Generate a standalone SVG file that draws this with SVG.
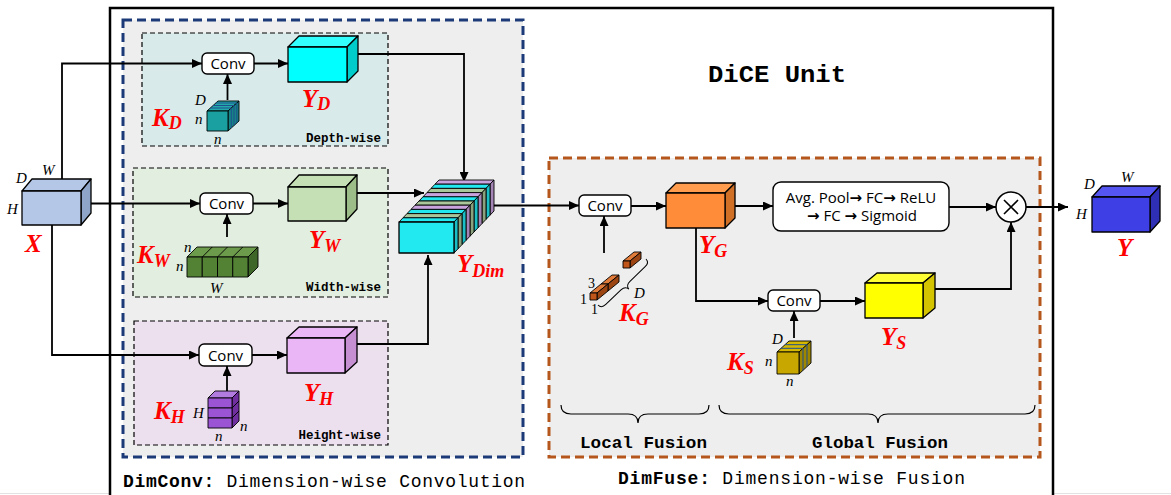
<svg xmlns="http://www.w3.org/2000/svg" width="1171" height="495" viewBox="0 0 1171 495">
<style>
  .wire{fill:none;stroke:#000;stroke-width:1.8}
  .arr{marker-end:url(#ah)}
  .conv{fill:#fff;stroke:#000;stroke-width:1.4}
  .convt{font-family:"Open Sans","Liberation Sans",sans-serif;font-size:15px;fill:#000;text-anchor:middle}
  .ar{font-family:"DejaVu Sans",sans-serif;font-weight:bold}
  .edge{stroke:#000;stroke-width:1.3;stroke-linejoin:round}
  .thin{stroke:#000;stroke-width:0.9;stroke-linejoin:round}
  .red{font-family:"Liberation Serif",serif;font-weight:bold;font-style:italic;font-size:25px;fill:#ff0000}
  .sub{font-size:18px}
  .dim{font-family:"Liberation Serif",serif;font-style:italic;font-size:15px;fill:#000}
  .num{font-family:"Liberation Serif",serif;font-size:14px;fill:#000}
  .mono{font-family:"Liberation Mono","Courier New",monospace;fill:#000}
  .tag{font-family:"Liberation Mono","Courier New",monospace;font-weight:bold;font-size:12.5px;fill:#000;text-anchor:end}
  .stripe{stroke:#1f4f8f;stroke-width:1}
  .shade{fill:#000;fill-opacity:0.18;stroke:none}
</style>
<defs>
  <marker id="ah" markerUnits="userSpaceOnUse" markerWidth="11" markerHeight="9" refX="10" refY="4.5" orient="auto">
    <path d="M0,0 L10,4.5 L0,9 Z" fill="#000"/>
  </marker>
  <!-- one slab of the stacked Y_Dim tensor: top and side strips -->
  <g id="slab">
    <polygon points="399,222 403,217.8 458,217.8 454,222"/>
    <polygon points="454,222 458,217.8 458,248.8 454,253"/>
    <polygon class="shade" points="454,222 458,217.8 458,248.8 454,253"/>
  </g>
</defs>

<rect x="0" y="0" width="1171" height="495" fill="#fff"/>
<line x1="0" y1="493.5" x2="1171" y2="493.5" stroke="#e2e2e2" stroke-width="1"/>

<!-- DiCE unit frame -->
<g id="dice-unit">
  <rect x="110" y="8" width="943" height="500" fill="#fff" stroke="#000" stroke-width="2.5"/>
  <text class="mono" x="708" y="82" font-size="24" font-weight="bold" textLength="138" lengthAdjust="spacingAndGlyphs">DiCE Unit</text>
</g>

<!-- DimConv block -->
<g id="dimconv">
  <rect x="123" y="20" width="400" height="437" fill="#eeeeee" stroke="#1c3a78" stroke-width="3" stroke-dasharray="9,5"/>
  <text class="mono" x="123" y="487" font-size="18" textLength="402" lengthAdjust="spacing"><tspan font-weight="bold">DimConv:</tspan> Dimension-wise Convolution</text>
</g>

<!-- DimFuse block -->
<g id="dimfuse">
  <rect x="549" y="158" width="491" height="299" fill="#eeeeee" stroke="#b5561c" stroke-width="3" stroke-dasharray="9,5"/>
  <text class="mono" x="618" y="484" font-size="18" textLength="347" lengthAdjust="spacing"><tspan font-weight="bold">DimFuse:</tspan> Dimension-wise Fusion</text>
</g>

<!-- branch panels -->
<g id="depth-panel">
  <rect x="142" y="33" width="246" height="113" fill="#d8eae9" stroke="#000" stroke-width="1.2" stroke-dasharray="5,3"/>
  <text class="tag" x="381" y="142">Depth-wise</text>
</g>
<g id="width-panel">
  <rect x="133" y="168" width="255" height="129" fill="#e2eedf" stroke="#000" stroke-width="1.2" stroke-dasharray="5,3"/>
  <text class="tag" x="381" y="291">Width-wise</text>
</g>
<g id="height-panel">
  <rect x="134" y="321" width="254" height="124" fill="#ecdfee" stroke="#000" stroke-width="1.2" stroke-dasharray="5,3"/>
  <text class="tag" x="381" y="439">Height-wise</text>
</g>

<!-- connectors -->
<g id="connectors">
  <polyline class="wire arr" points="62,179 62,63.5 202,63.5"/>
  <polyline class="wire arr" points="91,203.5 200,203.5"/>
  <polyline class="wire arr" points="52,225 52,355 199,355"/>
  <line class="wire arr" x1="254" y1="63.5" x2="288" y2="63.5"/>
  <line class="wire arr" x1="253" y1="203.5" x2="288" y2="203.5"/>
  <line class="wire arr" x1="252" y1="355" x2="287" y2="355"/>
  <line class="wire arr" x1="227.5" y1="100" x2="227.5" y2="74"/>
  <line class="wire arr" x1="227" y1="237" x2="227" y2="214"/>
  <line class="wire arr" x1="227" y1="391" x2="227" y2="366"/>
  <polyline class="wire arr" points="358,54 464,54 464,182"/>
  <line class="wire arr" x1="357" y1="193" x2="424" y2="193"/>
  <polyline class="wire arr" points="357,344 428,344 428,255"/>
  <line class="wire arr" x1="490" y1="205.5" x2="579" y2="205.5"/>
  <line class="wire arr" x1="604" y1="253" x2="604" y2="216"/>
  <line class="wire arr" x1="631" y1="206" x2="666" y2="206"/>
  <line class="wire arr" x1="735" y1="206" x2="773" y2="206"/>
  <line class="wire arr" x1="949" y1="207" x2="996" y2="207"/>
  <polyline class="wire arr" points="696,228 696,301 768,301"/>
  <line class="wire arr" x1="820" y1="301" x2="865" y2="301"/>
  <line class="wire arr" x1="794" y1="338" x2="794" y2="311"/>
  <polyline class="wire arr" points="935,289 1011,289 1011,222"/>
  <line class="wire arr" x1="1026" y1="207" x2="1068" y2="207"/>
</g>

<!-- input X -->
<g id="x-input">
  <polygon class="edge" fill="#b4c7e7" points="22,191 32,179 91,179 81,191"/>
  <polygon class="edge" fill="#8ea5c9" points="81,191 91,179 91,213 81,225"/>
  <rect class="edge" x="22" y="191" width="59" height="34" fill="#b4c7e7"/>
  <text class="dim" x="16" y="183">D</text>
  <text class="dim" x="42" y="175">W</text>
  <text class="dim" x="7" y="214">H</text>
  <text class="red" x="25" y="252" font-size="28">X</text>
</g>

<!-- depth-wise branch -->
<g id="conv-d">
  <rect class="conv" x="202" y="53" width="52" height="21" rx="5"/>
  <text class="convt" x="228" y="69">Conv</text>
</g>
<g id="kernel-d">
  <polygon class="thin" fill="#23a9a9" points="207,111 218,101 239,101 228,111"/>
  <polygon class="thin" fill="#168484" points="228,111 239,101 239,121 228,131"/>
  <line class="stripe" x1="210.3" y1="108" x2="231.3" y2="108"/>
  <line class="stripe" x1="213" y1="105.5" x2="234" y2="105.5"/>
  <line class="stripe" x1="215.8" y1="103" x2="236.8" y2="103"/>
  <line class="stripe" x1="231.3" y1="108" x2="231.3" y2="128"/>
  <line class="stripe" x1="234" y1="105.5" x2="234" y2="125.5"/>
  <line class="stripe" x1="236.8" y1="103" x2="236.8" y2="123"/>
  <rect class="thin" x="207" y="111" width="21" height="20" fill="#1aa0a0"/>
  <text class="dim" x="195" y="105">D</text>
  <text class="dim" x="195" y="124">n</text>
  <text class="dim" x="214" y="144">n</text>
  <text class="red" x="152" y="126">K<tspan class="sub" dy="3">D</tspan></text>
</g>
<g id="y-d">
  <polygon class="edge" fill="#33ffff" points="288,47 299,36 358,36 347,47"/>
  <polygon class="edge" fill="#00cccc" points="347,47 358,36 358,71 347,82"/>
  <rect class="edge" x="288" y="47" width="59" height="35" fill="#00ffff"/>
  <text class="red" x="302" y="107">Y<tspan class="sub" dy="3">D</tspan></text>
</g>

<!-- width-wise branch -->
<g id="conv-w">
  <rect class="conv" x="200" y="193" width="53" height="21" rx="5"/>
  <text class="convt" x="226.5" y="209">Conv</text>
</g>
<g id="kernel-w">
  <polygon class="thin" fill="#6d9b4c" points="187,257 197,247 258,247 248,257"/>
  <line class="thin" x1="202.25" y1="257" x2="212.25" y2="247"/>
  <line class="thin" x1="217.5" y1="257" x2="227.5" y2="247"/>
  <line class="thin" x1="232.75" y1="257" x2="242.75" y2="247"/>
  <polygon class="thin" fill="#3e6629" points="248,257 258,247 258,267 248,277"/>
  <rect class="thin" x="187" y="257" width="15.25" height="20" fill="#548235"/>
  <rect class="thin" x="202.25" y="257" width="15.25" height="20" fill="#548235"/>
  <rect class="thin" x="217.5" y="257" width="15.25" height="20" fill="#548235"/>
  <rect class="thin" x="232.75" y="257" width="15.25" height="20" fill="#548235"/>
  <text class="dim" x="184" y="252">n</text>
  <text class="dim" x="176" y="271">n</text>
  <text class="dim" x="210" y="293">W</text>
  <text class="red" x="137" y="263">K<tspan class="sub" dy="4">W</tspan></text>
</g>
<g id="y-w">
  <polygon class="edge" fill="#c5e0b4" points="288,187 299,175 357,175 346,187"/>
  <polygon class="edge" fill="#9dbd88" points="346,187 357,175 357,209 346,221"/>
  <rect class="edge" x="288" y="187" width="58" height="34" fill="#c5e0b4"/>
  <text class="red" x="309" y="248">Y<tspan class="sub" dy="4">W</tspan></text>
</g>

<!-- height-wise branch -->
<g id="conv-h">
  <rect class="conv" x="199" y="344" width="53" height="22" rx="5"/>
  <text class="convt" x="225.5" y="360.5">Conv</text>
</g>
<g id="kernel-h">
  <polygon class="thin" fill="#b27be0" points="208,398 215,391 239,391 232,398"/>
  <polygon class="thin" fill="#6f2f9e" points="232,398 239,391 239,401 232,408"/>
  <polygon class="thin" fill="#6f2f9e" points="232,408 239,401 239,411 232,418"/>
  <polygon class="thin" fill="#6f2f9e" points="232,418 239,411 239,421 232,428"/>
  <rect class="thin" x="208" y="398" width="24" height="10" fill="#9b55d4"/>
  <rect class="thin" x="208" y="408" width="24" height="10" fill="#9b55d4"/>
  <rect class="thin" x="208" y="418" width="24" height="10" fill="#9b55d4"/>
  <text class="dim" x="193" y="418">H</text>
  <text class="dim" x="240" y="431">n</text>
  <text class="dim" x="215" y="441">n</text>
  <text class="red" x="154" y="419">K<tspan class="sub" dy="4">H</tspan></text>
</g>
<g id="y-h">
  <polygon class="edge" fill="#eab6f6" points="287,338 299,327 357,327 345,338"/>
  <polygon class="edge" fill="#c68fd2" points="345,338 357,327 357,362 345,373"/>
  <rect class="edge" x="287" y="338" width="58" height="35" fill="#eab6f6"/>
  <text class="red" x="304" y="401">Y<tspan class="sub" dy="4">H</tspan></text>
</g>

<!-- stacked output of the three branches -->
<g id="y-dim" stroke="#000" stroke-width="0.9" stroke-linejoin="round">
  <use href="#slab" transform="translate(36,-37.8)" fill="#c9a3dd"/>
  <use href="#slab" transform="translate(32,-33.6)" fill="#22e8f0"/>
  <use href="#slab" transform="translate(28,-29.4)" fill="#a9c79a"/>
  <use href="#slab" transform="translate(24,-25.2)" fill="#c9a3dd"/>
  <use href="#slab" transform="translate(20,-21)" fill="#22e8f0"/>
  <use href="#slab" transform="translate(16,-16.8)" fill="#a9c79a"/>
  <use href="#slab" transform="translate(12,-12.6)" fill="#c9a3dd"/>
  <use href="#slab" transform="translate(8,-8.4)" fill="#22e8f0"/>
  <use href="#slab" transform="translate(4,-4.2)" fill="#a9c79a"/>
  <use href="#slab" fill="#22e8f0"/>
  <rect x="399" y="222" width="55" height="31" fill="#22e8f0" stroke-width="1.3"/>
  <text class="red" x="457" y="272" stroke="none">Y<tspan class="sub" dy="5">Dim</tspan></text>
</g>

<!-- local fusion -->
<g id="conv-g">
  <rect class="conv" x="579" y="195" width="52" height="21" rx="5"/>
  <text class="convt" x="605" y="211">Conv</text>
</g>
<g id="kernel-g">
  <polygon class="thin" fill="#e07b39" points="623,261 634,252 641,252 630,261"/>
  <polygon class="thin" fill="#9c4512" points="630,261 641,252 641,259 630,268"/>
  <rect class="thin" x="623" y="261" width="7" height="7" fill="#c0561a"/>
  <polygon class="thin" fill="#e07b39" points="601,284 612,275 619,275 608,284"/>
  <polygon class="thin" fill="#9c4512" points="608,284 619,275 619,282 608,291"/>
  <polygon class="thin" fill="#e07b39" points="590,293 601,284 608,284 597,293"/>
  <polygon class="thin" fill="#9c4512" points="597,293 608,284 608,291 597,300"/>
  <rect class="thin" x="590" y="293" width="7" height="7" fill="#c0561a"/>
  <path d="M0,0 C0,4 2,5 6,5 L27,5 C31,5 33,6 33.25,10 C33.5,6 35.5,5 39.5,5 L60.5,5 C64.5,5 66.5,4 66.5,0" fill="none" stroke="#000" stroke-width="1" transform="translate(598,305) rotate(-43.8)"/>
  <text class="num" x="588" y="288">3</text>
  <text class="num" x="580" y="304">1</text>
  <text class="num" x="591" y="314">1</text>
  <text class="dim" x="634" y="298">D</text>
  <text class="red" x="619" y="321">K<tspan class="sub" dy="4">G</tspan></text>
</g>
<g id="y-g">
  <polygon class="edge" fill="#ff9c4d" points="666,193 676,183 735,183 725,193"/>
  <polygon class="edge" fill="#d06f26" points="725,193 735,183 735,218 725,228"/>
  <rect class="edge" x="666" y="193" width="59" height="35" fill="#ff8c38"/>
  <text class="red" x="699" y="253">Y<tspan class="sub" dy="4">G</tspan></text>
</g>

<!-- global fusion -->
<g id="attention">
  <rect class="conv" x="773" y="182" width="176" height="49" rx="8"/>
  <text class="convt" x="861" y="202.5" font-size="15">Avg. Pool<tspan class="ar">→</tspan> FC<tspan class="ar">→</tspan> ReLU</text>
  <text class="convt" x="862" y="221" font-size="15"><tspan class="ar">→</tspan> FC <tspan class="ar">→</tspan> Sigmoid</text>
</g>
<g id="conv-s">
  <rect class="conv" x="768" y="290" width="52" height="21" rx="5"/>
  <text class="convt" x="794" y="306">Conv</text>
</g>
<g id="kernel-s">
  <polygon class="thin" fill="#d6b800" points="777,352 789,341 811,341 799,352"/>
  <polygon class="thin" fill="#9e8600" points="799,352 811,341 811,363 799,374"/>
  <line class="stripe" x1="781" y1="348.3" x2="803" y2="348.3"/>
  <line class="stripe" x1="785" y1="344.7" x2="807" y2="344.7"/>
  <line class="stripe" x1="803" y1="348.3" x2="803" y2="370.3"/>
  <line class="stripe" x1="807" y1="344.7" x2="807" y2="366.7"/>
  <rect class="thin" x="777" y="352" width="22" height="22" fill="#c8a800"/>
  <text class="dim" x="772" y="344">D</text>
  <text class="dim" x="765" y="366">n</text>
  <text class="dim" x="786" y="386">n</text>
  <text class="red" x="727" y="370">K<tspan class="sub" dy="4">S</tspan></text>
</g>
<g id="y-s">
  <polygon class="edge" fill="#ffff33" points="865,283 877,273 935,273 923,283"/>
  <polygon class="edge" fill="#d4c400" points="923,283 935,273 935,308 923,318"/>
  <rect class="edge" x="865" y="283" width="58" height="35" fill="#ffff00"/>
  <text class="red" x="881" y="345">Y<tspan class="sub" dy="4">S</tspan></text>
</g>
<g id="multiply">
  <circle cx="1011" cy="207" r="15" fill="#fff" stroke="#000" stroke-width="1.5"/>
  <path d="M1004,200 L1018,214 M1018,200 L1004,214" stroke="#000" stroke-width="1.6"/>
</g>

<!-- fusion stage braces -->
<g id="local-fusion">
  <path d="M561,405 C561,411 564,414 571,414 L628,414 C634,414 638,416 638,423 C638,416 642,414 648,414 L699,414 C706,414 709,411 709,405" fill="none" stroke="#000" stroke-width="1.2"/>
  <text class="mono" x="580" y="448" font-size="17" font-weight="bold" textLength="127" lengthAdjust="spacingAndGlyphs">Local Fusion</text>
</g>
<g id="global-fusion">
  <path d="M719,405 C719,411 722,414 729,414 L868,414 C874,414 878,416 878,423 C878,416 882,414 888,414 L1025,414 C1032,414 1035,411 1035,405" fill="none" stroke="#000" stroke-width="1.2"/>
  <text class="mono" x="812" y="448" font-size="17" font-weight="bold" textLength="136" lengthAdjust="spacingAndGlyphs">Global Fusion</text>
</g>

<!-- output Y -->
<g id="y-output">
  <polygon class="edge" fill="#5555f2" points="1092,197 1102,186 1160,186 1150,197"/>
  <polygon class="edge" fill="#2f2fb5" points="1150,197 1160,186 1160,221 1150,232"/>
  <rect class="edge" x="1092" y="197" width="58" height="35" fill="#3f3fe6"/>
  <text class="dim" x="1084" y="189">D</text>
  <text class="dim" x="1121" y="182">W</text>
  <text class="dim" x="1076" y="219">H</text>
  <text class="red" x="1117" y="256">Y</text>
</g>
</svg>
